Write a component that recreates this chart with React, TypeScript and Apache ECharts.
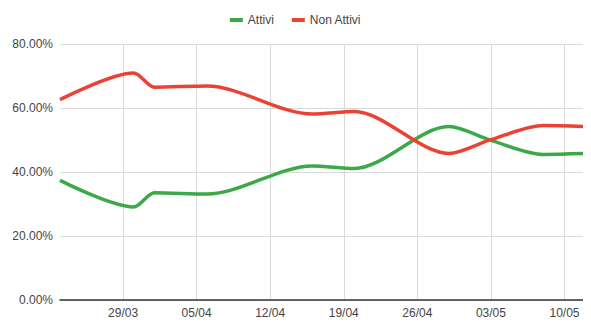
import React, { useEffect, useRef } from "react";
import * as echarts from "echarts";

// First and last day shown on the horizontal axis (2020)
const firstDay = "2020-03-23";
const lastDay = "2020-05-13";

// Days on which the share was recorded
const sampleDates = ["23/03", "30/03", "01/04", "06/04", "16/04", "20/04", "29/04", "03/05", "08/05", "13/05"];
// Share of active users (%)
const attivi = [37.4, 29.1, 33.5, 33.1, 41.9, 41.1, 54.2, 49.9, 45.5, 45.9];
// Share of inactive users (%)
const nonAttivi = [62.6, 70.9, 66.5, 66.9, 58.1, 58.9, 45.8, 50.1, 54.5, 54.1];

// Weekly labels along the horizontal axis
const weekTicks = ["29/03", "05/04", "12/04", "19/04", "26/04", "03/05", "10/05"];

const yTicks = [0, 20, 40, 60, 80];

const GREEN = "#3aaa49";
const RED = "#ea4335";

function dayLabels(from: string, to: string): string[] {
  const out: string[] = [];
  const d = new Date(from + "T12:00:00Z");
  const end = new Date(to + "T12:00:00Z");
  while (d <= end) {
    const dd = String(d.getUTCDate()).padStart(2, "0");
    const mm = String(d.getUTCMonth() + 1).padStart(2, "0");
    out.push(`${dd}/${mm}`);
    d.setUTCDate(d.getUTCDate() + 1);
  }
  return out;
}

export default function App() {
  const ref = useRef<HTMLDivElement>(null);

  useEffect(() => {
    if (!ref.current) return;
    const chart = echarts.init(ref.current, undefined, { renderer: "svg" });

    const days = dayLabels(firstDay, lastDay);
    const onDays = (values: number[]) =>
      days.map((d) => {
        const i = sampleDates.indexOf(d);
        return i >= 0 ? values[i] : null;
      });
    const isWeekTick = (_i: number, v: string) => weekTicks.includes(v);

    chart.setOption({
      animation: false,
      textStyle: { fontFamily: "Liberation Sans, Arial, sans-serif" },
      legend: {
        top: 9,
        left: "center",
        icon: "rect",
        itemWidth: 13,
        itemHeight: 4,
        itemGap: 18,
        textStyle: { color: "#444", fontSize: 12 },
        data: ["Attivi", "Non Attivi"],
      },
      grid: { left: 60, right: -5, top: 44, bottom: 25, outerBoundsMode: "none" },
      xAxis: {
        type: "category",
        data: days,
        boundaryGap: false,
        axisLine: { lineStyle: { color: "#333", width: 1.5 } },
        axisTick: { show: false },
        axisLabel: {
          interval: isWeekTick,
          color: "#444",
          fontSize: 12,
          margin: 7,
        },
        splitLine: {
          show: true,
          interval: isWeekTick,
          lineStyle: { color: "#d9d9d9", width: 1 },
        },
      },
      yAxis: {
        type: "value",
        min: yTicks[0],
        max: yTicks[yTicks.length - 1],
        interval: 20,
        axisLine: { show: false },
        axisTick: { show: false },
        axisLabel: {
          color: "#444",
          fontSize: 12,
          margin: 7,
          formatter: (v: number) => v.toFixed(2) + "%",
        },
        splitLine: { lineStyle: { color: "#d9d9d9", width: 1 } },
      },
      series: [
        {
          name: "Attivi",
          type: "line",
          data: onDays(attivi),
          connectNulls: true,
          smooth: 0.3,
          symbol: "none",
          color: GREEN,
          lineStyle: { color: GREEN, width: 3.5 },
        },
        {
          name: "Non Attivi",
          type: "line",
          data: onDays(nonAttivi),
          connectNulls: true,
          smooth: 0.3,
          symbol: "none",
          color: RED,
          lineStyle: { color: RED, width: 3.5 },
        },
      ],
    });

    return () => chart.dispose();
  }, []);

  return <div ref={ref} style={{ width: 591, height: 325, margin: -8 }} />;
}
